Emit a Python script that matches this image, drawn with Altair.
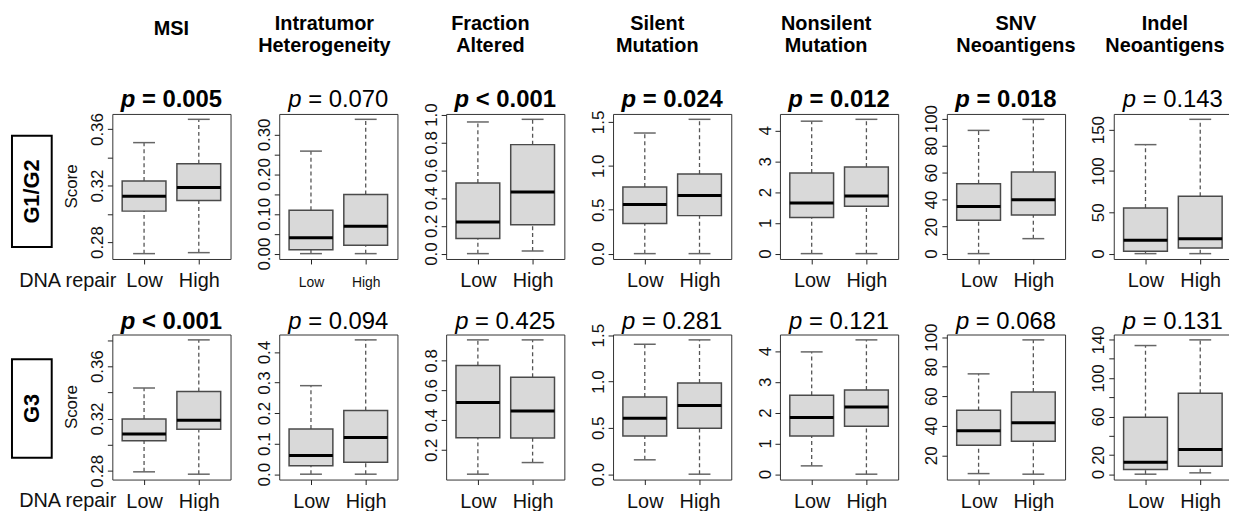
import altair as alt
import pandas as pd

# ---------------- data ----------------
metrics = ["MSI", "Intratumor Heterogeneity", "Fraction Altered", "Silent Mutation",
           "Nonsilent Mutation", "SNV Neoantigens", "Indel Neoantigens"]
header_lines = [["MSI"], ["Intratumor", "Heterogeneity"], ["Fraction", "Altered"],
                ["Silent", "Mutation"], ["Nonsilent", "Mutation"], ["SNV", "Neoantigens"],
                ["Indel", "Neoantigens"]]
groups = ["Low", "High"]
grades = ["G1/G2", "G3"]

# five-number summaries: [lower whisker, Q1, median, Q3, upper whisker]
g12_low = [
    [0.2718, 0.3019, 0.3124, 0.3232, 0.3504],
    [0.000, 0.010, 0.040, 0.109, 0.258],
    [0.000, 0.108, 0.227, 0.508, 0.947],
    [0.000, 0.342, 0.561, 0.759, 1.374],
    [0.00, 1.17, 1.64, 2.62, 4.30],
    [0.0, 24.7, 35.0, 51.8, 91.3],
    [0.0, 2.8, 16.1, 55.2, 131.8],
]
g12_high = [
    [0.2725, 0.3095, 0.3187, 0.3355, 0.3669],
    [0.000, 0.021, 0.069, 0.149, 0.338],
    [0.019, 0.208, 0.443, 0.784, 0.966],
    [0.000, 0.433, 0.661, 0.907, 1.530],
    [0.00, 1.54, 1.87, 2.81, 4.36],
    [11.1, 28.6, 40.0, 60.4, 99.5],
    [0.0, 6.8, 18.1, 69.3, 162.4],
]
g3_low = [
    [0.2792, 0.3029, 0.3082, 0.3196, 0.3433],
    [0.000, 0.028, 0.061, 0.148, 0.290],
    [0.037, 0.282, 0.518, 0.766, 0.938],
    [0.155, 0.413, 0.604, 0.834, 1.402],
    [0.27, 1.24, 1.84, 2.56, 3.97],
    [7.6, 26.8, 36.6, 50.4, 75.1],
    [0.0, 4.8, 12.4, 59.1, 133.8],
]
g3_high = [
    [0.2774, 0.3117, 0.3186, 0.3407, 0.3801],
    [0.000, 0.039, 0.120, 0.209, 0.440],
    [0.115, 0.280, 0.461, 0.688, 0.938],
    [0.000, 0.496, 0.741, 0.985, 1.449],
    [0.00, 1.56, 2.18, 2.73, 4.36],
    [7.2, 29.5, 42.0, 62.8, 98.1],
    [1.4, 8.3, 25.6, 84.3, 139.7],
]
g12_p = ["= 0.005", "= 0.070", "< 0.001", "= 0.024", "= 0.012", "= 0.018", "= 0.143"]
g12_bold = [True, False, True, True, True, True, False]
g3_p = ["< 0.001", "= 0.094", "= 0.425", "= 0.281", "= 0.121", "= 0.068", "= 0.131"]
g3_bold = [True, False, False, False, False, False, False]

g12_ticks = [
    [0.28, 0.30, 0.32, 0.34, 0.36],
    [0.0, 0.05, 0.10, 0.15, 0.20, 0.25, 0.30],
    [0.0, 0.2, 0.4, 0.6, 0.8, 1.0],
    [0.0, 0.5, 1.0, 1.5],
    [0, 1, 2, 3, 4],
    [0, 20, 40, 60, 80, 100],
    [0, 50, 100, 150],
]
g12_tick_labels = [
    ["0.28", "", "0.32", "", "0.36"],
    ["0.00", "", "0.10", "", "0.20", "", "0.30"],
    ["0.0", "0.2", "0.4", "0.6", "0.8", "1.0"],
    ["0.0", "0.5", "1.0", "1.5"],
    ["0", "1", "2", "3", "4"],
    ["0", "20", "40", "60", "80", "100"],
    ["0", "50", "100", "150"],
]
g3_ticks = [
    [0.28, 0.30, 0.32, 0.34, 0.36, 0.38],
    [0.0, 0.1, 0.2, 0.3, 0.4],
    [0.2, 0.4, 0.6, 0.8],
    [0.0, 0.5, 1.0, 1.5],
    [0, 1, 2, 3, 4],
    [20, 40, 60, 80, 100],
    [0, 20, 40, 60, 80, 100, 120, 140],
]
g3_tick_labels = [
    ["0.28", "", "0.32", "", "0.36", ""],
    ["0.0", "0.1", "0.2", "0.3", "0.4"],
    ["0.2", "0.4", "0.6", "0.8"],
    ["0.0", "0.5", "1.0", "1.5"],
    ["0", "1", "2", "3", "4"],
    ["20", "40", "60", "80", "100"],
    ["0", "20", "", "60", "", "100", "", "140"],
]

# ---------------- layout / style ----------------
W, H = 119, 146
FONT = "Liberation Sans"
P_SIZE = 24
HDR_DX = [0, -14, -15, -15, -13, 10, -8]

REG = {"p": 0.556, " ": 0.278, "=": 0.584, "<": 0.584, ".": 0.278}
BLD = {"p": 0.611, " ": 0.278, "=": 0.584, "<": 0.584, ".": 0.278}


def tw(s, bold):
    tab = BLD if bold else REG
    return sum(tab.get(c, 0.556) for c in s) * P_SIZE


def yexpr(ticks, labels):
    expr = "''"
    for v, lab in reversed(list(zip(ticks, labels))):
        expr = f"abs(datum.value - ({v})) < 1e-9 ? '{lab}' : ({expr})"
    return expr


one = pd.DataFrame({"k": [0]})


def make_panel(row, i):
    lows = (g12_low if row == 0 else g3_low)[i]
    highs = (g12_high if row == 0 else g3_high)[i]
    ticks = (g12_ticks if row == 0 else g3_ticks)[i]
    tlabels = (g12_tick_labels if row == 0 else g3_tick_labels)[i]
    ptxt = (g12_p if row == 0 else g3_p)[i]
    bold = (g12_bold if row == 0 else g3_bold)[i]

    df = pd.DataFrame({
        "group": groups, "pos": [1, 2],
        "lw": [lows[0], highs[0]], "q1": [lows[1], highs[1]],
        "med": [lows[2], highs[2]], "q3": [lows[3], highs[3]],
        "uw": [lows[4], highs[4]],
    })
    lo, hi = min(df.lw), max(df.uw)
    ext = 0.04 * (hi - lo)
    ysc = alt.Scale(domain=[lo - ext, hi + ext], nice=False, zero=False)
    xsc = alt.Scale(domain=[0.42, 2.58], nice=False, zero=False)

    xlab_size = 14 if (row == 0 and i == 1) else 20
    xaxis = alt.Axis(values=[1, 2], labelExpr="datum.value == 1 ? 'Low' : 'High'",
                     title=None, domain=False, grid=False, tickSize=5, tickColor="#222",
                     labelFont=FONT, labelFontSize=xlab_size, labelColor="#111",
                     labelPadding=23, labelBaseline="alphabetic", labelFlush=False,
                     labelOverlap=False)
    yaxis = alt.Axis(values=ticks, labelExpr=yexpr(ticks, tlabels), title=None,
                     domain=False, grid=False, tickSize=5, tickColor="#222",
                     labelFont=FONT, labelFontSize=17, labelColor="#111",
                     labelAngle=270, labelAlign="center", labelBaseline="bottom",
                     labelPadding=1, labelOverlap=False, labelFlush=False)

    def X(f):
        return alt.X(f, scale=xsc, axis=xaxis)

    def Y(f):
        return alt.Y(f, scale=ysc, axis=yaxis)

    base = alt.Chart(df).transform_calculate(
        xl="datum.pos - 0.4", xr="datum.pos + 0.4",
        sl="datum.pos - 0.2", sr="datum.pos + 0.2")

    whisk_up = base.mark_rule(color="#555", strokeWidth=1.3, strokeDash=[4, 3]).encode(
        x=X("pos:Q"), y=Y("q3:Q"), y2="uw:Q")
    whisk_dn = base.mark_rule(color="#555", strokeWidth=1.3, strokeDash=[4, 3]).encode(
        x=X("pos:Q"), y=Y("lw:Q"), y2="q1:Q")
    cap_up = base.mark_rule(color="#666", strokeWidth=1.5).encode(
        x=X("sl:Q"), x2="sr:Q", y=Y("uw:Q"))
    cap_dn = base.mark_rule(color="#666", strokeWidth=1.5).encode(
        x=X("sl:Q"), x2="sr:Q", y=Y("lw:Q"))
    box = base.mark_rect(fill="#d9d9d9", stroke="#4a4a4a", strokeWidth=1.5).encode(
        x=X("xl:Q"), x2="xr:Q", y=Y("q1:Q"), y2="q3:Q")
    med = base.mark_rule(color="#000", strokeWidth=3).encode(
        x=X("xl:Q"), x2="xr:Q", y=Y("med:Q"))

    layers = [whisk_up, whisk_dn, cap_up, cap_dn, box, med]

    # p-value title: italic "p", a space, then the rest, centred on the frame
    wp = tw("p", bold)
    ws = tw(" ", bold)
    wr = tw(ptxt, bold)
    left = W / 2 - (wp + ws + wr) / 2
    py = -7 if row == 0 else -6
    weight = "bold" if bold else "normal"
    layers.append(alt.Chart(one).mark_text(
        text="p", font=FONT, fontSize=P_SIZE, fontStyle="italic", fontWeight=weight,
        align="left", baseline="alphabetic", color="#000").encode(
        x=alt.value(left), y=alt.value(py)))
    layers.append(alt.Chart(one).mark_text(
        text=ptxt, font=FONT, fontSize=P_SIZE, fontWeight=weight,
        align="left", baseline="alphabetic", color="#000").encode(
        x=alt.value(left + wp + ws), y=alt.value(py)))

    if row == 0:
        lines = header_lines[i]
        ys = [-85] if len(lines) == 1 else [-91, -68]
        for line, yy in zip(lines, ys):
            layers.append(alt.Chart(one).mark_text(
                text=line, font=FONT, fontSize=20, fontWeight="bold",
                align="center", baseline="middle", color="#000").encode(
                x=alt.value(W / 2 + HDR_DX[i]), y=alt.value(yy)))

    if i == 0:
        y1, y2 = (22, 134) if row == 0 else (25, 124)
        layers.append(alt.Chart(one).mark_rect(
            fill="white", fillOpacity=0, stroke="#000", strokeWidth=2).encode(
            x=alt.value(-101), x2=alt.value(-61), y=alt.value(y1), y2=alt.value(y2)))
        layers.append(alt.Chart(one).mark_text(
            text=grades[row], font=FONT, fontSize=22, fontWeight="bold", angle=270,
            align="center", baseline="middle", color="#000").encode(
            x=alt.value(-81), y=alt.value((y1 + y2) / 2)))
        layers.append(alt.Chart(one).mark_text(
            text="Score", font=FONT, fontSize=17, angle=270,
            align="center", baseline="middle", color="#111").encode(
            x=alt.value(-41), y=alt.value(H / 2)))
        layers.append(alt.Chart(one).mark_text(
            text="DNA repair", font=FONT, fontSize=20,
            align="right", baseline="alphabetic", color="#111").encode(
            x=alt.value(4), y=alt.value(H + 28)))

    return alt.layer(*layers).properties(width=W, height=H)


panels = [make_panel(r, i) for r in range(2) for i in range(7)]

# fixed canvas: grid origin (first frame) at page (113, 113); canvas 1229 x 503
chart = alt.concat(*panels, columns=7, spacing={"row": 76, "column": 49},
                   bounds="flush").properties(
    autosize=alt.AutoSizeParams(type="none"),
    padding={"left": 105, "top": 105, "right": 1124, "bottom": 398},
    background="white",
).configure_view(stroke="#333", strokeWidth=1)

chart.save("out.html", embed_options={"renderer": "svg", "actions": False})
